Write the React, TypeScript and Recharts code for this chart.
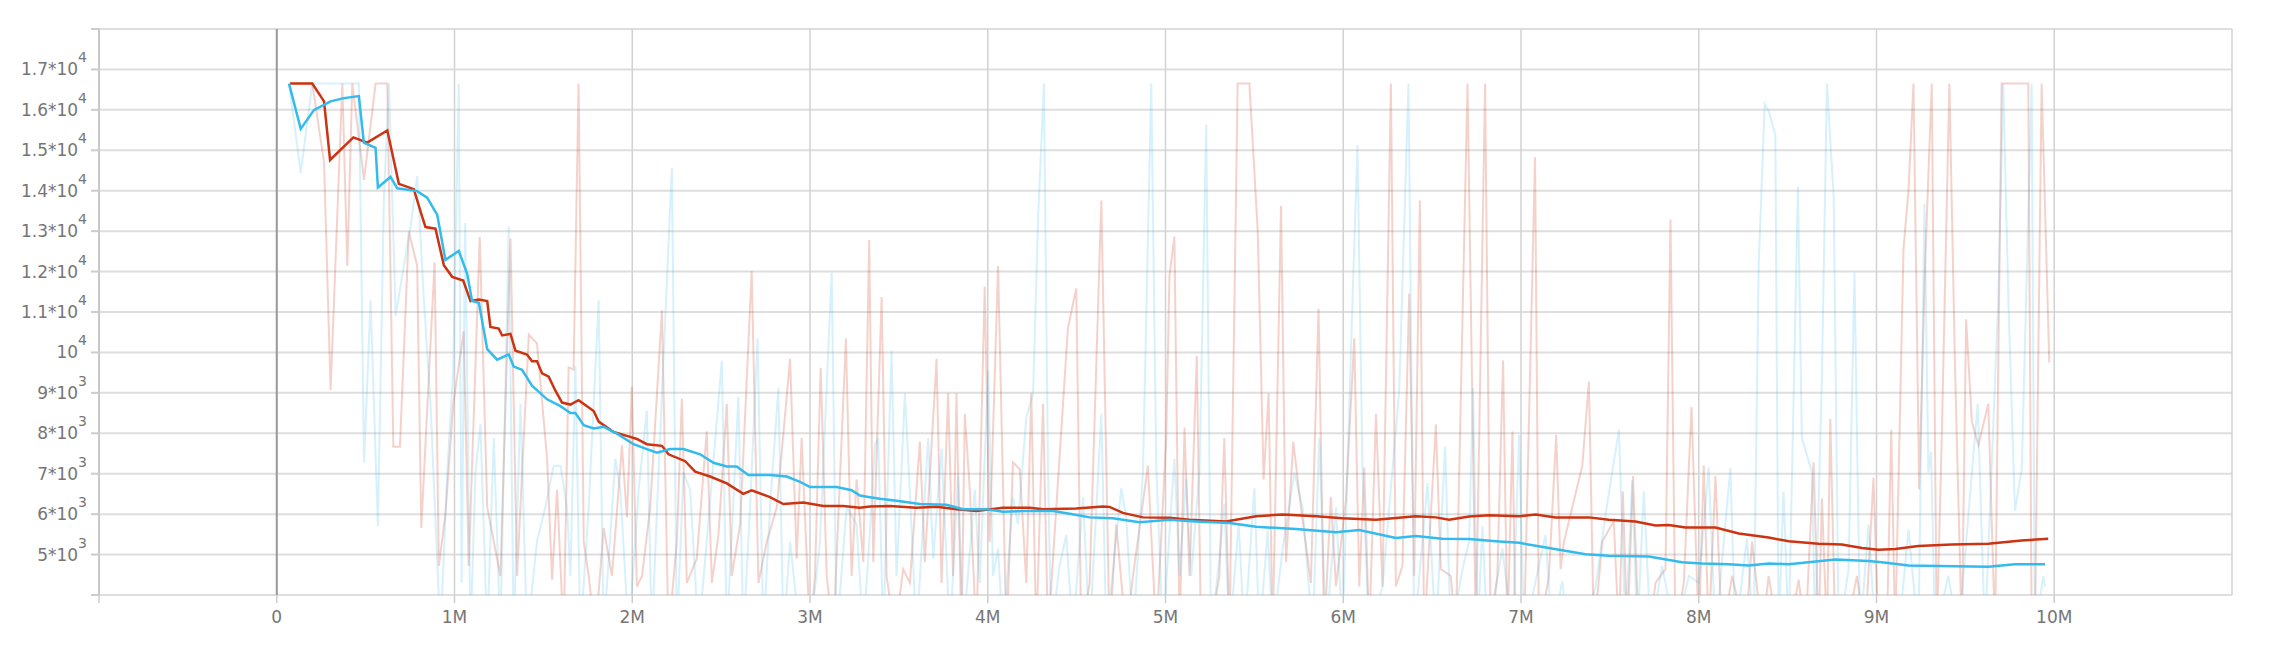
import React from 'react'
import { LineChart, Line, XAxis, YAxis, CartesianGrid, ReferenceLine } from 'recharts'

// steps are in millions
const X_TICKS = [-1, 0, 1, 2, 3, 4, 5, 6, 7, 8, 9, 10]
const Y_TICKS = [4000, 5000, 6000, 7000, 8000, 9000, 10000, 11000, 12000, 13000, 14000, 15000, 16000, 17000, 18000]

const RED = '#cc3311'
const BLUE = '#33bbee'

const redSmooth: [number, number][] = [
  [0.075, 16650], [0.2, 16650], [0.266, 16210], [0.3, 14760], [0.431, 15320], [0.509, 15190], [0.622, 15490],
  [0.687, 14170], [0.771, 14040], [0.818, 13360], [0.837, 13100], [0.893, 13060], [0.94, 12160], [0.987, 11870],
  [1.049, 11780], [1.09, 11270], [1.137, 11310], [1.184, 11270], [1.202, 10630], [1.249, 10590], [1.268, 10420],
  [1.315, 10460], [1.343, 10040], [1.408, 9950], [1.436, 9780], [1.464, 9780], [1.493, 9480], [1.53, 9400],
  [1.567, 9060], [1.605, 8760], [1.652, 8710], [1.698, 8820], [1.783, 8550], [1.811, 8290], [1.895, 8030],
  [1.989, 7910], [2.026, 7860], [2.082, 7730], [2.167, 7690], [2.204, 7480], [2.298, 7310], [2.354, 7050],
  [2.438, 6930], [2.532, 6760], [2.625, 6500], [2.672, 6590], [2.775, 6420], [2.85, 6250], [2.963, 6290],
  [3.075, 6200], [3.187, 6200], [3.281, 6160], [3.337, 6190], [3.449, 6200], [3.599, 6160], [3.712, 6180],
  [3.824, 6120], [3.936, 6080], [4.086, 6160], [4.236, 6160], [4.311, 6120], [4.498, 6140], [4.648, 6190],
  [4.685, 6180], [4.76, 6030], [4.873, 5920], [5.022, 5910], [5.135, 5860], [5.341, 5820], [5.51, 5950],
  [5.659, 5990], [5.847, 5950], [5.996, 5900], [6.184, 5860], [6.408, 5950], [6.521, 5920], [6.596, 5860],
  [6.708, 5940], [6.82, 5970], [6.989, 5950], [7.083, 5990], [7.195, 5920], [7.382, 5920], [7.494, 5860],
  [7.644, 5820], [7.757, 5720], [7.831, 5730], [7.925, 5670], [8.094, 5670], [8.225, 5520], [8.393, 5420],
  [8.506, 5330], [8.674, 5270], [8.805, 5250], [8.918, 5160], [9.011, 5120], [9.105, 5140], [9.236, 5210],
  [9.423, 5250], [9.629, 5270], [9.816, 5350], [9.966, 5390],
]

const blueSmooth: [number, number][] = [
  [0.069, 16650], [0.135, 15530], [0.21, 16000], [0.303, 16210], [0.378, 16290], [0.462, 16340], [0.49, 15190],
  [0.556, 15060], [0.569, 14080], [0.64, 14340], [0.678, 14060], [0.79, 13990], [0.846, 13830], [0.903, 13400],
  [0.949, 12290], [1.024, 12510], [1.071, 11950], [1.099, 11270], [1.137, 11230], [1.184, 10080], [1.24, 9820],
  [1.305, 9950], [1.333, 9650], [1.38, 9570], [1.436, 9180], [1.521, 8840], [1.596, 8670], [1.652, 8500],
  [1.68, 8500], [1.727, 8200], [1.783, 8120], [1.839, 8160], [1.914, 7990], [2.007, 7730], [2.082, 7610],
  [2.139, 7520], [2.213, 7610], [2.288, 7610], [2.382, 7480], [2.457, 7270], [2.532, 7180], [2.588, 7180],
  [2.653, 6970], [2.775, 6970], [2.869, 6930], [2.944, 6800], [3.0, 6670], [3.075, 6670], [3.15, 6670],
  [3.234, 6590], [3.281, 6460], [3.337, 6420], [3.393, 6380], [3.487, 6330], [3.618, 6250], [3.768, 6230],
  [3.861, 6120], [3.993, 6120], [4.086, 6060], [4.217, 6080], [4.367, 6080], [4.461, 6010], [4.573, 5920],
  [4.704, 5900], [4.854, 5800], [5.022, 5860], [5.172, 5820], [5.36, 5780], [5.51, 5690], [5.734, 5630],
  [5.959, 5550], [6.09, 5610], [6.296, 5410], [6.408, 5460], [6.558, 5390], [6.708, 5385], [6.858, 5330],
  [6.989, 5290], [7.157, 5160], [7.363, 5010], [7.494, 4970], [7.719, 4950], [7.906, 4810], [8.018, 4780],
  [8.169, 4760], [8.281, 4730], [8.393, 4780], [8.506, 4760], [8.768, 4880], [8.955, 4840], [9.03, 4810],
  [9.18, 4730], [9.442, 4710], [9.629, 4700], [9.779, 4760], [9.948, 4760],
]

// raw values; 3000 marks points that fall below the visible range
const redRaw: [number, number][] = [
  [0.075, 16650], [0.2, 16650], [0.266, 14700], [0.303, 9070], [0.369, 16650], [0.397, 12140], [0.425, 16650],
  [0.491, 14270], [0.556, 16650], [0.622, 16650], [0.656, 7670], [0.693, 7670], [0.743, 12990], [0.79, 12140],
  [0.813, 5660], [0.888, 12230], [0.912, 4720], [0.949, 6000], [0.993, 8730], [1.052, 10520], [1.08, 4720],
  [1.142, 12860], [1.184, 6170], [1.258, 4470], [1.315, 12820], [1.352, 4470], [1.418, 10440], [1.464, 10220],
  [1.521, 7370], [1.549, 4380], [1.577, 6600], [1.614, 3000], [1.642, 9630], [1.67, 9580], [1.698, 16650],
  [1.727, 5320], [1.755, 4470], [1.792, 3000], [1.839, 5660], [1.886, 4470], [1.942, 7700], [1.97, 5920],
  [1.998, 9150], [2.026, 4210], [2.055, 4470], [2.101, 6170], [2.167, 11040], [2.204, 3000], [2.251, 5320],
  [2.279, 8860], [2.307, 4300], [2.363, 4900], [2.419, 8050], [2.448, 4300], [2.485, 5490], [2.532, 8730],
  [2.56, 4470], [2.607, 5750], [2.672, 12010], [2.71, 4300], [2.757, 5320], [2.813, 6170], [2.888, 9840],
  [2.925, 4900], [2.953, 7880], [3.0, 3000], [3.028, 4470], [3.06, 9620], [3.094, 4470], [3.131, 3000],
  [3.202, 10350], [3.234, 4470], [3.262, 6860], [3.3, 4810], [3.333, 12780], [3.356, 4810], [3.403, 11370],
  [3.431, 4470], [3.478, 3000], [3.524, 4640], [3.562, 4300], [3.618, 7790], [3.646, 4810], [3.712, 9840],
  [3.74, 4300], [3.777, 8990], [3.805, 4470], [3.824, 8990], [3.852, 3000], [3.871, 8480], [3.899, 6600],
  [3.936, 3000], [3.983, 11630], [4.011, 5320], [4.058, 12140], [4.105, 3000], [4.142, 7280], [4.18, 7110],
  [4.217, 4300], [4.245, 8990], [4.273, 3000], [4.311, 8730], [4.339, 3000], [4.451, 10600], [4.498, 11580],
  [4.526, 3000], [4.573, 4300], [4.639, 13760], [4.685, 3000], [4.723, 5750], [4.779, 3000], [4.817, 4470],
  [4.901, 7200], [4.948, 3000], [5.004, 7880], [5.022, 11880], [5.05, 12870], [5.079, 3000], [5.107, 8140],
  [5.135, 4470], [5.176, 9920], [5.2, 3000], [5.247, 3000], [5.303, 4470], [5.331, 7880], [5.36, 3000],
  [5.406, 16650], [5.472, 16650], [5.519, 12990], [5.552, 6860], [5.58, 8990], [5.603, 3000], [5.65, 13630],
  [5.678, 4810], [5.719, 7790], [5.762, 6170], [5.818, 4300], [5.861, 11080], [5.893, 3000], [5.93, 6430],
  [5.959, 4210], [6.015, 6340], [6.062, 10350], [6.09, 4210], [6.118, 7150], [6.146, 3000], [6.184, 8480],
  [6.221, 4210], [6.268, 16650], [6.296, 4210], [6.333, 4720], [6.371, 11460], [6.399, 4470], [6.431, 13760],
  [6.455, 3000], [6.521, 8220], [6.549, 4640], [6.605, 4470], [6.633, 3000], [6.699, 16650], [6.746, 3000],
  [6.798, 16650], [6.829, 3000], [6.867, 4470], [6.899, 9800], [6.924, 3000], [6.952, 8050], [6.97, 3000],
  [7.017, 3000], [7.079, 14830], [7.101, 3000], [7.157, 4470], [7.198, 7960], [7.223, 4640], [7.242, 5320],
  [7.345, 7200], [7.382, 9280], [7.41, 3000], [7.457, 5320], [7.522, 5830], [7.551, 3000], [7.573, 6560],
  [7.598, 3000], [7.63, 6940], [7.663, 3000], [7.719, 3000], [7.757, 4300], [7.813, 4640], [7.841, 13290],
  [7.869, 3000], [7.916, 4300], [7.959, 8650], [8.0, 3000], [8.028, 7200], [8.056, 3000], [8.094, 6940],
  [8.131, 3000], [8.188, 4470], [8.262, 3000], [8.3, 5320], [8.356, 3000], [8.393, 4470], [8.449, 3000],
  [8.506, 3000], [8.562, 4380], [8.6, 3000], [8.646, 7280], [8.674, 3000], [8.693, 6390], [8.721, 3000],
  [8.74, 8350], [8.768, 3000], [8.824, 3000], [8.89, 4470], [8.936, 3000], [8.983, 6900], [9.011, 3000],
  [9.058, 3000], [9.083, 8090], [9.105, 3000], [9.152, 12570], [9.18, 14010], [9.208, 16650], [9.24, 6610],
  [9.273, 12140], [9.311, 16650], [9.339, 3000], [9.367, 7880], [9.41, 16650], [9.442, 9580], [9.48, 3000],
  [9.504, 10820], [9.536, 8300], [9.573, 7710], [9.629, 8730], [9.667, 3000], [9.704, 16650], [9.854, 16650],
  [9.873, 3000], [9.891, 3000], [9.929, 16650], [9.972, 9750],
]

const blueRaw: [number, number][] = [
  [0.069, 16650], [0.135, 14440], [0.2, 16650], [0.462, 16650], [0.491, 7280], [0.528, 11290], [0.569, 5710],
  [0.603, 13850], [0.631, 16650], [0.669, 10910], [0.715, 12140], [0.753, 13120], [0.79, 14360], [0.828, 11290],
  [0.865, 8730], [0.921, 3000], [0.959, 7030], [0.993, 9580], [1.024, 16650], [1.04, 4300], [1.06, 13200],
  [1.09, 3000], [1.118, 7030], [1.146, 8220], [1.184, 3000], [1.221, 7880], [1.258, 3000], [1.305, 13120],
  [1.333, 3000], [1.371, 8730], [1.408, 3000], [1.464, 5320], [1.511, 6170], [1.558, 7200], [1.596, 7200],
  [1.633, 6170], [1.652, 4470], [1.68, 9670], [1.708, 3000], [1.755, 6170], [1.811, 11290], [1.839, 3000],
  [1.905, 7370], [1.933, 6600], [1.98, 3000], [2.036, 6600], [2.082, 8560], [2.11, 3000], [2.148, 7030],
  [2.223, 14570], [2.251, 3000], [2.288, 7030], [2.326, 6600], [2.373, 3000], [2.419, 5320], [2.504, 9800],
  [2.532, 3000], [2.597, 8900], [2.625, 3000], [2.663, 6170], [2.705, 10350], [2.738, 3000], [2.775, 6170],
  [2.822, 9120], [2.851, 3000], [2.888, 5320], [2.944, 3000], [3.0, 3000], [3.056, 5320], [3.122, 11970],
  [3.15, 3000], [3.206, 6170], [3.262, 5750], [3.3, 3000], [3.337, 5580], [3.365, 7710], [3.384, 7880],
  [3.412, 3000], [3.459, 10050], [3.487, 4470], [3.534, 8990], [3.562, 6510], [3.599, 3000], [3.665, 7880],
  [3.693, 4900], [3.74, 7620], [3.787, 3000], [3.833, 6940], [3.861, 3000], [3.927, 6600], [3.955, 4300],
  [4.002, 9540], [4.03, 4470], [4.058, 5150], [4.086, 3000], [4.142, 6430], [4.17, 5750], [4.217, 8390],
  [4.255, 8990], [4.283, 13290], [4.316, 16650], [4.339, 7030], [4.357, 3000], [4.404, 4720], [4.442, 5490],
  [4.479, 3000], [4.536, 6430], [4.573, 3000], [4.639, 8480], [4.667, 3000], [4.751, 6640], [4.779, 5920],
  [4.817, 3000], [4.873, 7030], [4.92, 16650], [4.948, 7200], [4.985, 3000], [5.013, 4900], [5.05, 7370],
  [5.079, 4470], [5.116, 6860], [5.144, 4470], [5.191, 7030], [5.229, 15630], [5.256, 3000], [5.303, 4900],
  [5.331, 6260], [5.36, 3000], [5.412, 5750], [5.444, 3000], [5.5, 6640], [5.528, 3000], [5.575, 5580],
  [5.603, 3000], [5.659, 5150], [5.725, 7030], [5.771, 6170], [5.828, 3000], [5.865, 7880], [5.903, 3000],
  [5.959, 6170], [5.996, 3000], [6.043, 10000], [6.08, 15130], [6.108, 7110], [6.146, 3000], [6.221, 4210],
  [6.315, 9070], [6.367, 16650], [6.399, 3000], [6.474, 6770], [6.521, 3000], [6.573, 7670], [6.605, 3000],
  [6.671, 4640], [6.708, 5320], [6.73, 9120], [6.755, 3000], [6.783, 5710], [6.811, 3000], [6.895, 5150],
  [6.952, 3000], [6.989, 7960], [7.017, 3000], [7.138, 5490], [7.176, 3000], [7.232, 4340], [7.27, 3000],
  [7.345, 3000], [7.42, 4210], [7.476, 6000], [7.551, 8090], [7.588, 3000], [7.626, 6840], [7.654, 3000],
  [7.691, 6560], [7.729, 3000], [7.794, 4720], [7.869, 3000], [7.944, 4470], [8.0, 4300], [8.056, 7150],
  [8.094, 3000], [8.178, 7150], [8.206, 3000], [8.271, 5400], [8.309, 3000], [8.337, 12140], [8.371, 16150],
  [8.393, 15980], [8.431, 15380], [8.449, 3000], [8.477, 6560], [8.506, 3000], [8.558, 14100], [8.58, 7880],
  [8.637, 7030], [8.655, 3000], [8.693, 9410], [8.721, 16650], [8.759, 13850], [8.787, 3000], [8.843, 4640],
  [8.876, 11970], [8.908, 3000], [8.955, 5750], [8.993, 3000], [9.124, 3000], [9.18, 5620], [9.236, 3000],
  [9.27, 13680], [9.292, 7030], [9.307, 7540], [9.33, 3000], [9.404, 4470], [9.461, 3000], [9.569, 8730],
  [9.61, 3000], [9.685, 11290], [9.713, 16650], [9.742, 11290], [9.779, 6090], [9.817, 7110], [9.873, 16650],
  [9.891, 3000], [9.938, 4470], [9.948, 4210],
]

const toRows = (pts: [number, number][]) => pts.map(([x, y]) => ({ x, y }))

function formatStep(v: number): string {
  if (v < 0) return ''
  if (v === 0) return '0'
  return `${v}M`
}

function YTick(props: any) {
  const { x, y, payload } = props
  const v: number = payload.value
  if (v <= 4000 || v >= 18000) return null
  const exp = Math.floor(Math.log10(v))
  const mant = parseFloat((v / Math.pow(10, exp)).toFixed(2))
  const base = mant === 1 ? '10' : `${mant}*10`
  return (
    <text x={x} y={y} textAnchor="end" fill="#767676" fontSize={17} fontFamily="DejaVu Sans">
      <tspan dy={6}>{base}</tspan>
      <tspan dy={-13} fontSize={14}>{exp}</tspan>
    </text>
  )
}

export default function App() {
  return (
    <div style={{ width: 2255, height: 632 }}>
      <LineChart width={2255} height={632} margin={{ top: 21, right: 31, bottom: 15, left: 0 }}>
        <CartesianGrid horizontal vertical={false} stroke="#dedede" strokeWidth={2} />
        <CartesianGrid horizontal={false} vertical stroke="#d2d2d2" strokeWidth={1.5} />
        <XAxis
          type="number"
          dataKey="x"
          domain={[-1, 11]}
          ticks={X_TICKS}
          allowDataOverflow
          tickFormatter={formatStep}
          height={30}
          tickSize={8}
          tickMargin={8}
          axisLine={false}
          tickLine={{ stroke: '#cccccc', strokeWidth: 1.5 }}
          tick={{ fill: '#767676', fontSize: 17, fontFamily: 'DejaVu Sans' }}
        />
        <YAxis
          type="number"
          domain={[4000, 18000]}
          ticks={Y_TICKS}
          allowDataOverflow
          width={91}
          tickSize={8}
          tickMargin={4}
          axisLine={{ stroke: '#c8c8c8', strokeWidth: 2 }}
          tickLine={{ stroke: '#cccccc', strokeWidth: 2 }}
          tick={<YTick />}
        />
        <ReferenceLine x={0} stroke="#9a9a9a" strokeWidth={2} />
        <Line data={toRows(redRaw)} dataKey="y" type="linear" stroke={RED} strokeOpacity={0.22} strokeWidth={2} dot={false} isAnimationActive={false} />
        <Line data={toRows(blueRaw)} dataKey="y" type="linear" stroke={BLUE} strokeOpacity={0.2} strokeWidth={2} dot={false} isAnimationActive={false} />
        <Line data={toRows(redSmooth)} dataKey="y" type="linear" stroke={RED} strokeWidth={2.5} dot={false} isAnimationActive={false} />
        <Line data={toRows(blueSmooth)} dataKey="y" type="linear" stroke={BLUE} strokeWidth={2.5} dot={false} isAnimationActive={false} />
      </LineChart>
    </div>
  )
}
